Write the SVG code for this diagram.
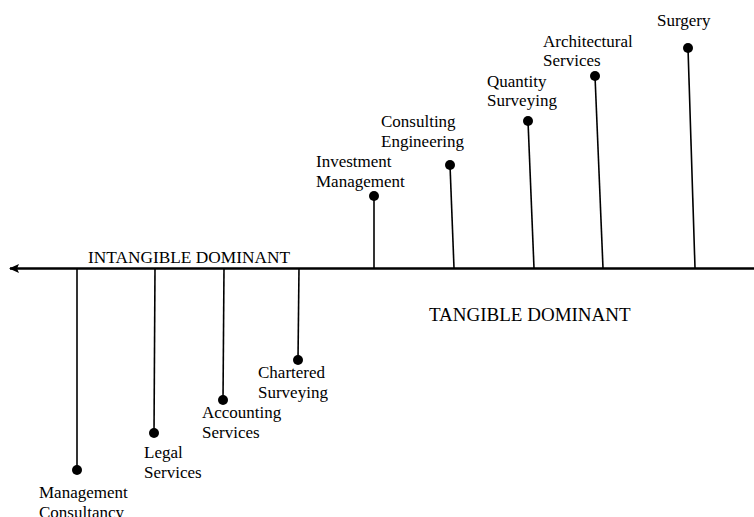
<svg xmlns="http://www.w3.org/2000/svg" width="754" height="517" viewBox="0 0 754 517">
<style>
text{font-family:"Liberation Serif","Times New Roman",serif;font-size:17px;fill:#000}
.stem{stroke:#000;stroke-width:1.6;fill:none}
.dot{fill:#000}
</style>
<defs>
<marker id="arr" viewBox="0 0 10 10" refX="9" refY="5" markerWidth="10" markerHeight="10" markerUnits="userSpaceOnUse" orient="auto">
<path d="M0,0.5 L10,5 L0,9.5 L2,5 Z" fill="#000"/>
</marker>
</defs>
<rect width="754" height="517" fill="#fff"/>
<g id="connectors">
<line x1="754" y1="268.5" x2="10" y2="268.5" stroke="#000" stroke-width="2.4" marker-end="url(#arr)"/>
<line class="stem" x1="77" y1="268" x2="77" y2="470"/>
<line class="stem" x1="155" y1="268" x2="154" y2="433"/>
<line class="stem" x1="224" y1="268" x2="223" y2="400"/>
<line class="stem" x1="299" y1="268" x2="298" y2="360"/>
<line class="stem" x1="374" y1="268" x2="374" y2="196"/>
<line class="stem" x1="454" y1="268" x2="450" y2="165"/>
<line class="stem" x1="534" y1="268" x2="528" y2="121"/>
<line class="stem" x1="603" y1="268" x2="595" y2="76"/>
<line class="stem" x1="695" y1="268" x2="688" y2="48"/>
</g>
<g id="axis-labels">
<text x="88" y="263" textLength="202" lengthAdjust="spacingAndGlyphs">INTANGIBLE DOMINANT</text>
<text x="429" y="321" style="font-size:19px">TANGIBLE DOMINANT</text>
</g>
<g id="management-consultancy"><circle class="dot" cx="77" cy="470" r="5"/><text x="39" y="498">Management</text><text x="39" y="518">Consultancy</text></g>
<g id="legal-services"><circle class="dot" cx="154" cy="433" r="5"/><text x="144" y="458">Legal</text><text x="144" y="478">Services</text></g>
<g id="accounting-services"><circle class="dot" cx="223" cy="400" r="5"/><text x="202" y="418">Accounting</text><text x="202" y="438">Services</text></g>
<g id="chartered-surveying"><circle class="dot" cx="298" cy="360" r="5"/><text x="258" y="378">Chartered</text><text x="258" y="398">Surveying</text></g>
<g id="investment-management"><circle class="dot" cx="374" cy="196" r="5"/><text x="316" y="167">Investment</text><text x="316" y="187">Management</text></g>
<g id="consulting-engineering"><circle class="dot" cx="450" cy="165" r="5"/><text x="381" y="127">Consulting</text><text x="381" y="147">Engineering</text></g>
<g id="quantity-surveying"><circle class="dot" cx="528" cy="121" r="5"/><text x="487" y="87">Quantity</text><text x="487" y="106">Surveying</text></g>
<g id="architectural-services"><circle class="dot" cx="595" cy="76" r="5"/><text x="543" y="47">Architectural</text><text x="543" y="66">Services</text></g>
<g id="surgery"><circle class="dot" cx="688" cy="48" r="5"/><text x="657" y="26">Surgery</text></g>
</svg>
